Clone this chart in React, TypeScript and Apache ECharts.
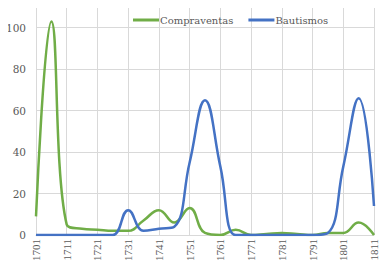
import React, { useEffect, useRef } from "react";
import * as echarts from "echarts";

const years = ["1701","1706","1711","1716","1721","1726","1731","1736","1741","1746","1751","1756","1761","1766","1771","1776","1781","1786","1791","1796","1801","1806","1811"];
const compraventas = [9, 103, 5, 3, 2.5, 2, 2, 7, 12, 6, 13, 1, 0, 2.5, 0, 0.5, 1, 0.5, 0, 1, 1, 6, 0];
const bautismos = [0, 0, 0, 0, 0, 0, 12, 2, 3, 4, 35, 65, 33, 0, 0, 0, 0, 0, 0, 1, 33, 66, 14];

const FONT = "DejaVu Serif";
const XFONT = "Liberation Serif";
const GRID = "#d9d9d9";
const TXT = "#595959";

export default function App() {
  const ref = useRef<HTMLDivElement>(null);
  useEffect(() => {
    if (!ref.current) return;
    const chart = echarts.init(ref.current, null, { renderer: "svg" });
    chart.setOption({
      animation: false,
      textStyle: { fontFamily: FONT },
      legend: {
        top: 10,
        left: 128,
        itemWidth: 26,
        itemHeight: 3,
        itemGap: 15,
        icon: "rect",
        textStyle: { fontFamily: FONT, fontSize: 10, color: TXT, padding: [0, 0, 0, -4] },
        data: ["Compraventas", "Bautismos"],
      },
      grid: { left: 36, right: 15, top: 7, bottom: 33 },
      xAxis: {
        type: "category",
        data: years,
        boundaryGap: false,
        axisLine: { lineStyle: { color: GRID, width: 1 } },
        axisTick: { show: false },
        axisLabel: {
          interval: 1,
          rotate: 90,
          margin: 4,
          fontFamily: XFONT,
          fontSize: 11,
          color: TXT,
        },
        splitLine: { show: true, interval: 1, lineStyle: { color: GRID, width: 1 } },
      },
      yAxis: {
        type: "value",
        min: 0,
        max: 110,
        interval: 20,
        axisLine: { show: false },
        axisTick: { show: false },
        axisLabel: {
          showMaxLabel: false,
          margin: 10,
          fontFamily: FONT,
          fontSize: 10.5,
          color: TXT,
        },
        splitLine: {
          show: true,
          lineStyle: {
            color: [GRID, GRID, GRID, GRID, GRID, GRID, "rgba(0,0,0,0)"],
            width: 1,
          },
        },
      },
      series: [
        {
          name: "Compraventas",
          type: "line",
          data: compraventas,
          smooth: 0.45,
          showSymbol: false,
          symbol: "none",
          lineStyle: { color: "#70AD47", width: 2.5 },
          itemStyle: { color: "#70AD47" },
        },
        {
          name: "Bautismos",
          type: "line",
          data: bautismos,
          smooth: 0.45,
          showSymbol: false,
          symbol: "none",
          lineStyle: { color: "#4472C4", width: 2.5 },
          itemStyle: { color: "#4472C4" },
        },
      ],
    });
    return () => chart.dispose();
  }, []);
  return <div ref={ref} style={{ width: 389, height: 268, margin: -8 }} />;
}
